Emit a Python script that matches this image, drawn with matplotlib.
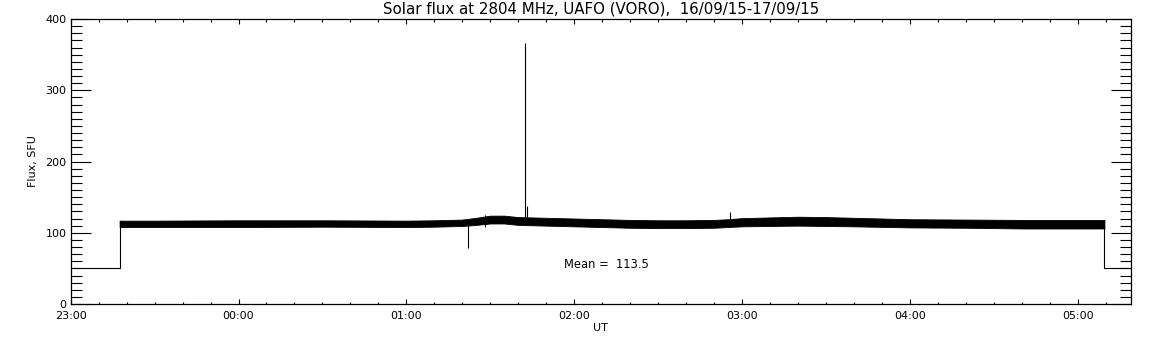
import matplotlib
matplotlib.use("Agg")
import matplotlib.pyplot as plt
from matplotlib.ticker import MultipleLocator, FixedLocator, FixedFormatter

# ---- data (time in minutes after 23:00 UT, flux in SFU) ----
title = "Solar flux at 2804 MHz, UAFO (VORO),  16/09/15-17/09/15"
hour_labels = ["23:00", "00:00", "01:00", "02:00", "03:00", "04:00", "05:00"]
hour_ticks = [0, 60, 120, 180, 240, 300, 360]

fill_level = 50.0          # value outside of observation window
obs_start = 17.5
obs_end = 369.6

# envelope of the noisy record (lower / upper edge of the black band)
env_t  = [17.5, 30, 60, 90, 120, 130, 140, 145, 150, 155, 160, 170, 180, 190,
          200, 210, 220, 230, 235, 240, 250, 260, 270, 280, 300, 320, 340, 360, 369.6]
env_lo = [108, 108, 108, 108.5, 108, 108.5, 109.5, 111, 113, 113, 111, 110, 109, 108,
          107, 106.5, 106.5, 107, 108, 109, 109.5, 110, 109.5, 109, 107.5, 107, 106, 106, 106]
env_hi = [117, 117, 117.5, 117.5, 117, 117.5, 118.5, 121, 124, 124, 122, 121, 120, 119,
          118, 117.5, 117.5, 118, 119, 120.5, 121.5, 122.5, 122, 121, 119, 118.5, 118, 118, 118]

# isolated spikes / dips
spike_t  = [142.0, 148.3, 162.3, 163.2, 235.8]
spike_lo = [79, 108, 112, 112, 110]
spike_hi = [112, 125, 366, 137.5, 129]

mean_text = "Mean =  113.5"

# ---- figure ----
W, H = 1152, 345
fig = plt.figure(figsize=(W / 100, H / 100), dpi=100)
ax = fig.add_axes([70.7 / W, 1 - 304 / H, (1131 - 70.7) / W, (304 - 19) / H])

lw = 0.8
ax.plot([0, obs_start, obs_start], [fill_level, fill_level, env_hi[0]],
        color="black", lw=lw)
ax.plot([obs_end, obs_end, 379.1], [env_lo[-1], fill_level, fill_level],
        color="black", lw=lw)
ax.fill_between(env_t, env_lo, env_hi, color="black", lw=0.6, edgecolor="black")
ax.vlines(spike_t, spike_lo, spike_hi, color="black", lw=lw)

ax.set_xlim(0, 379.1)
ax.set_ylim(0, 400)

ax.xaxis.set_major_locator(FixedLocator(hour_ticks))
ax.xaxis.set_major_formatter(FixedFormatter(hour_labels))
ax.xaxis.set_minor_locator(MultipleLocator(10))
ax.yaxis.set_major_locator(MultipleLocator(100))
ax.yaxis.set_minor_locator(MultipleLocator(10))

ax.tick_params(axis="x", which="major", direction="in", length=3.6, width=0.8,
               top=True, bottom=True, labelsize=8, pad=5)
ax.tick_params(axis="x", which="minor", direction="in", length=1.8, width=0.8,
               top=True, bottom=True)
ax.tick_params(axis="y", which="major", direction="in", length=14.4, width=0.8,
               left=True, right=True, labelsize=8, pad=3)
ax.tick_params(axis="y", which="minor", direction="in", length=7.9, width=0.8,
               left=True, right=True)
for s in ax.spines.values():
    s.set_linewidth(0.9)

fig.text(601 / W, 1 - 9 / H, title, ha="center", va="center", fontsize=10.8)
fig.text(600 / W, 1 - 328 / H, "UT", ha="center", va="center", fontsize=8)
fig.text(33 / W, 1 - 161 / H, "Flux, SFU", ha="center", va="center",
         rotation=90, fontsize=8)
fig.text(564 / W, 1 - 265 / H, mean_text, ha="left", va="center", fontsize=8.3)

fig.savefig("out.png", dpi=100)
